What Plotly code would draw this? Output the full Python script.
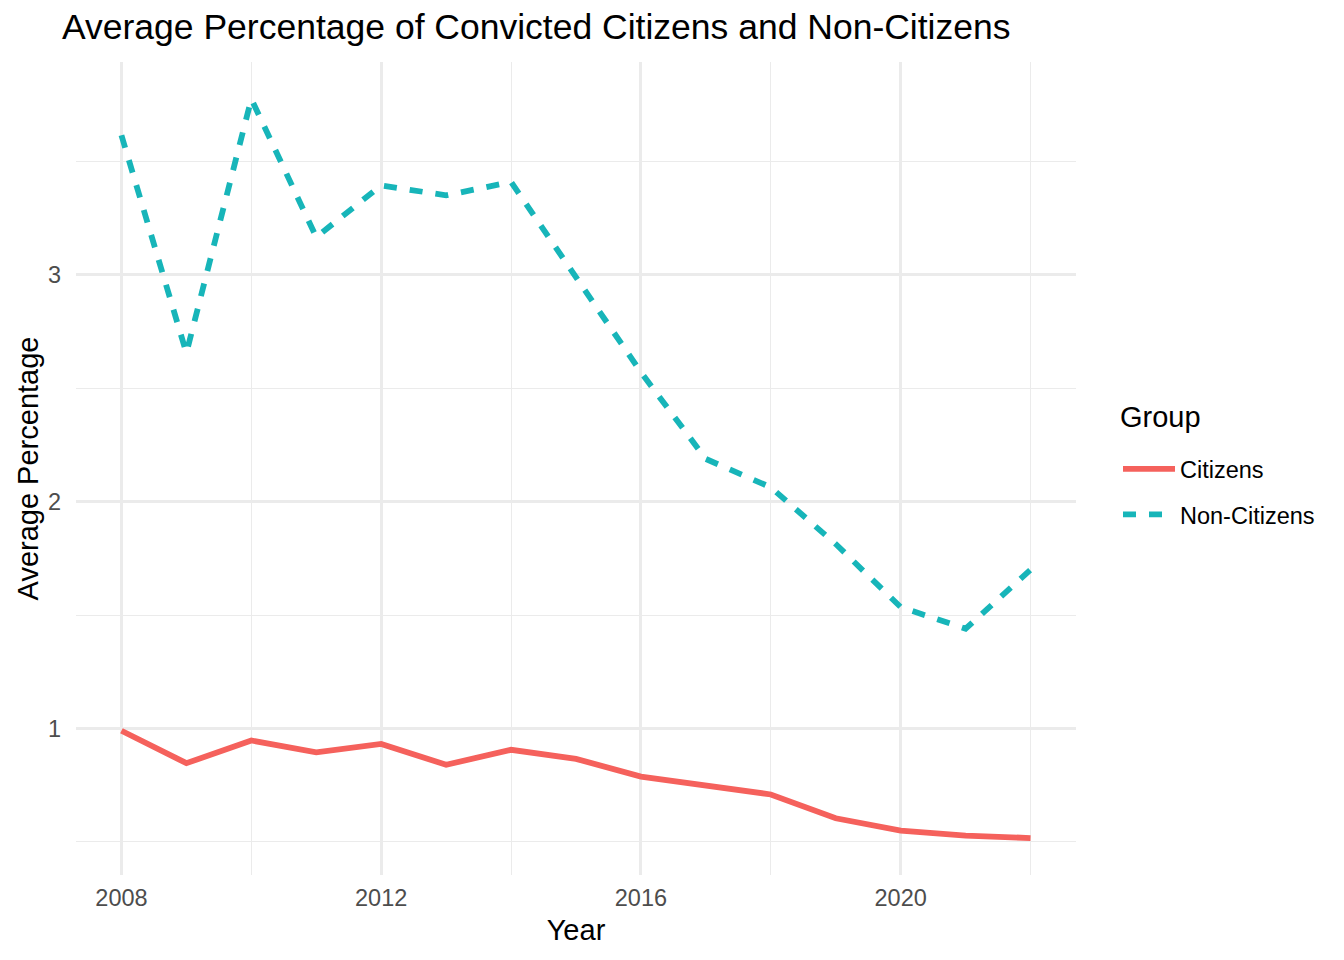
import plotly.graph_objects as go

# данные
years = list(range(2008, 2023))
citizens = [0.99, 0.847, 0.947, 0.895, 0.932, 0.84, 0.906, 0.866,
            0.788, 0.748, 0.709, 0.604, 0.55, 0.528, 0.517]
non_citizens = [3.615, 2.655, 3.775, 3.166, 3.394, 3.35, 3.409, 2.99,
                2.57, 2.188, 2.063, 1.813, 1.535, 1.44, 1.70]
group_names = ["Citizens", "Non-Citizens"]

FONT = "Liberation Sans, Arial, sans-serif"


def padded(lo, hi, frac=0.05):
    # как expand в ggplot: 5% с каждой стороны
    d = (hi - lo) * frac
    return [lo - d, hi + d]


all_vals = citizens + non_citizens
fig = go.Figure()

fig.add_trace(go.Scatter(
    x=years, y=citizens, mode="lines", name=group_names[0],
    line=dict(color="#F5615C", width=5.8), legendgroup="a",
))
fig.add_trace(go.Scatter(
    x=years, y=non_citizens, mode="lines", name=group_names[1],
    line=dict(color="#17B5B9", width=5.8, dash="13px,13px"), legendgroup="b",
))

fig.update_layout(
    width=1344, height=960,
    paper_bgcolor="white", plot_bgcolor="white",
    margin=dict(l=68, r=276, t=54, b=93),
    font=dict(family=FONT, color="black"),
    title=dict(
        text="Average Percentage of Convicted Citizens and Non-Citizens",
        x=54 / 1344, xref="container", xanchor="left",
        y=1 - 19 / 960, yref="container", yanchor="middle",
        font=dict(size=35.5, color="black"),
    ),
    legend=dict(
        font=dict(size=23.5),
        x=1.042, xanchor="left", y=0.471, yanchor="middle",
        tracegroupgap=12, itemwidth=52,
        bgcolor="rgba(0,0,0,0)",
    ),
    annotations=[dict(
        text="Group", xref="paper", yref="paper",
        x=1.042, y=0.563, xanchor="left", yanchor="middle",
        showarrow=False, font=dict(size=29, color="black"),
    )],
    showlegend=True,
)

fig.update_xaxes(
    range=padded(min(years), max(years)),
    tickvals=[2008, 2012, 2016, 2020],
    showgrid=True, gridcolor="#EBEBEB", gridwidth=2.6,
    minor=dict(tickvals=[2010, 2014, 2018, 2022], showgrid=True,
               gridcolor="#EBEBEB", gridwidth=1.3),
    zeroline=False, showline=False,
    ticks="", ticklabelstandoff=6,
    tickfont=dict(size=23.5, color="#4D4D4D"),
    title=dict(text="Year", font=dict(size=29), standoff=10),
)
fig.update_yaxes(
    range=padded(min(all_vals), max(all_vals)),
    tickvals=[1, 2, 3],
    showgrid=True, gridcolor="#EBEBEB", gridwidth=2.6,
    minor=dict(tickvals=[0.5, 1.5, 2.5, 3.5], showgrid=True,
               gridcolor="#EBEBEB", gridwidth=1.3),
    zeroline=False, showline=False,
    ticks="", ticklabelstandoff=14,
    tickfont=dict(size=23.5, color="#4D4D4D"),
    title=dict(text="Average Percentage", font=dict(size=29), standoff=0),
)

fig.write_html("out.html")
